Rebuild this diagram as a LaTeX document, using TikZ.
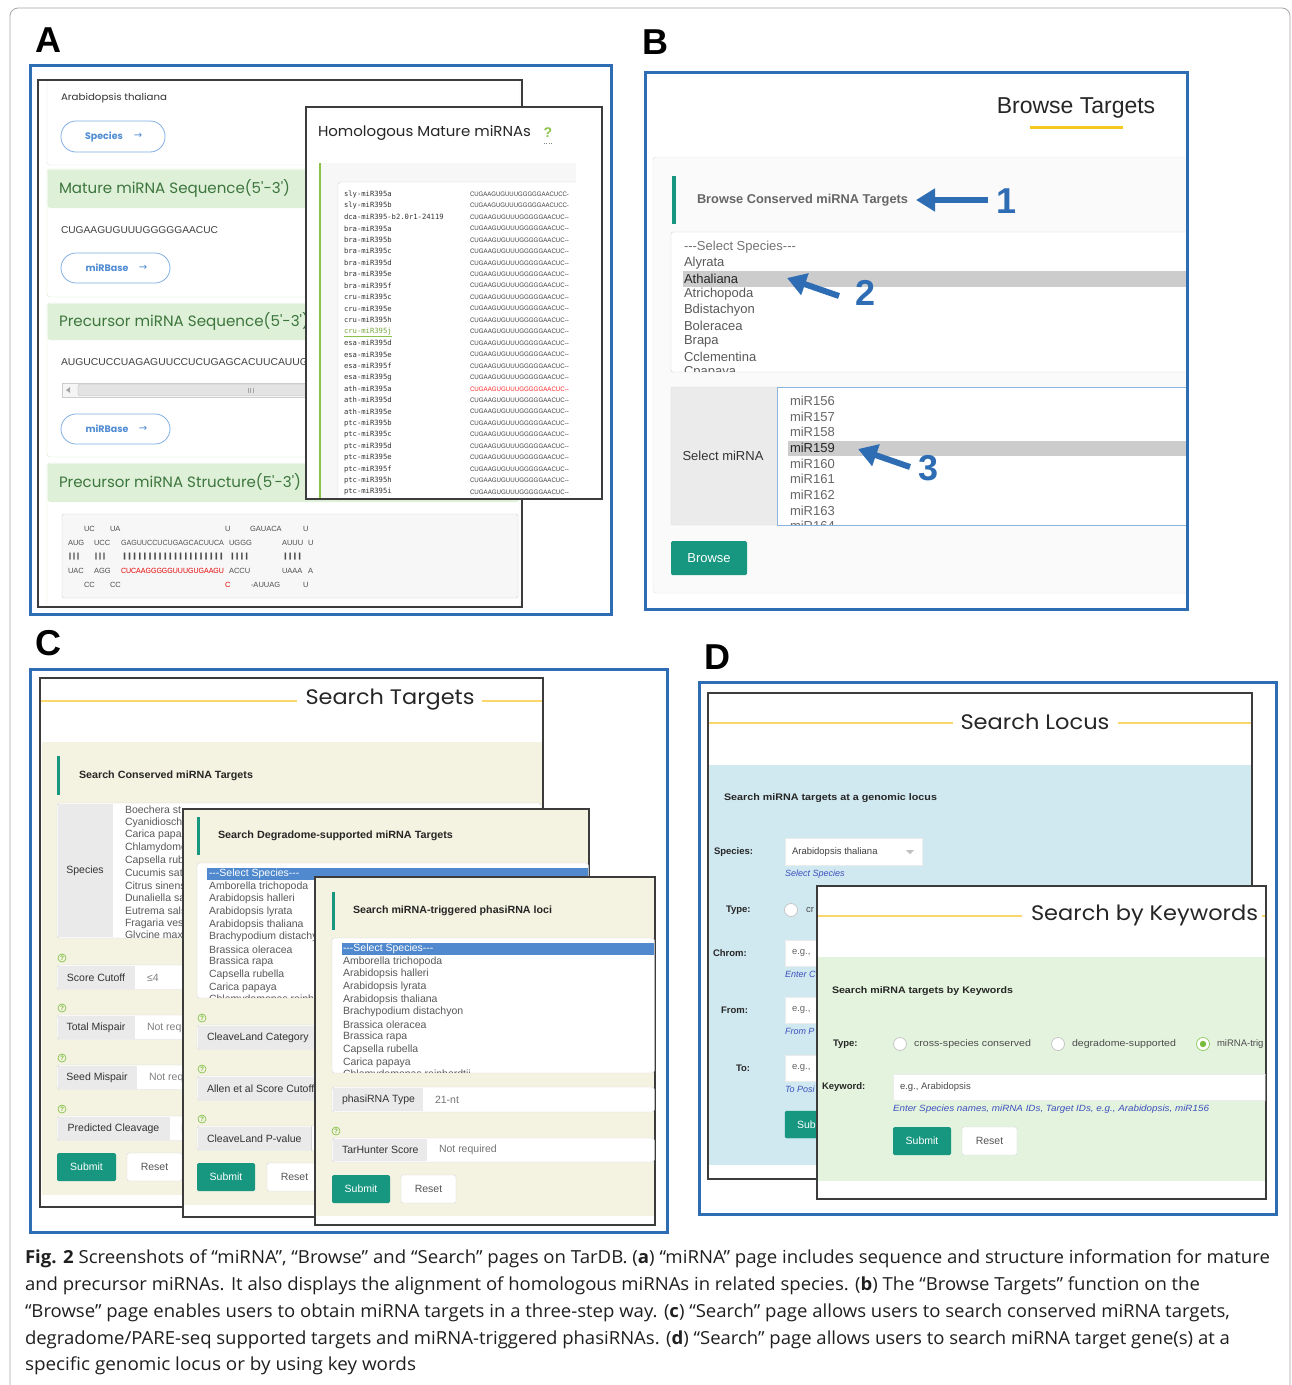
\documentclass[tikz,border=0pt]{standalone}
\usepackage{fontspec}
\usepackage{graphicx}
\usetikzlibrary{arrows.meta}
\newfontfamily\ar{Liberation Sans}
\newfontfamily\pop{Poppins}
\newfontfamily\mono{DejaVu Sans Mono}
\newfontfamily\dv{DejaVu Sans}
\newfontfamily\capf{Open Sans}
\definecolor{fblue}{RGB}{46,109,180}
\definecolor{teal1}{RGB}{23,150,128}
\definecolor{hdrg}{RGB}{223,240,216}
\definecolor{hdrt}{RGB}{60,118,61}
\definecolor{bdrg}{RGB}{214,233,198}
\definecolor{pillb}{RGB}{130,175,228}
\definecolor{pillt}{RGB}{80,140,210}
\definecolor{beige}{RGB}{244,242,224}
\definecolor{lblue}{RGB}{208,232,240}
\definecolor{lgreen}{RGB}{228,243,222}
\definecolor{ylw}{RGB}{250,214,110}
\definecolor{gold}{RGB}{245,200,30}
\definecolor{selblue}{RGB}{80,137,205}
\definecolor{pgb}{RGB}{60,60,60}
\definecolor{lblg}{RGB}{234,234,234}
\definecolor{lblg2}{RGB}{235,235,235}
\definecolor{bdg}{RGB}{214,214,214}
\definecolor{txg}{RGB}{85,85,85}
\definecolor{linkb}{RGB}{60,80,190}
\definecolor{hgreen}{RGB}{120,190,60}
\definecolor{agreen}{RGB}{139,195,74}
\definecolor{lbord}{RGB}{140,180,220}
\newcommand\fsz[1]{\fontsize{#1}{#1}\selectfont}
\newsavebox\fitbox
\newcommand\fitto[2]{\sbox\fitbox{#2}\edef\fitw{\the\wd\fitbox}\pgfmathsetmacro\fitr{#1/\fitw}\scalebox{\fitr}[1]{\usebox\fitbox}}
\tikzset{
 tx/.style={anchor=west, inner sep=0pt, outer sep=0pt},
 ct/.style={anchor=center, inner sep=0pt},
 bframe/.style={draw=fblue, line width=3pt},
 pagebox/.style={draw=pgb, line width=1.2pt, fill=white},
 plab/.style={font=\fsz{36}\bfseries, inner sep=0pt},
 btn/.style={fill=teal1, text=white, rounded corners=1.5pt, inner sep=0pt, font=\fsz{10.5}},
 rbtn/.style={fill=white, draw=bdg, text=txg, rounded corners=1.5pt, inner sep=0pt, font=\fsz{10.5}},
 helpic/.style={circle, draw=hgreen, text=hgreen, line width=0.6pt, inner sep=0pt, minimum size=8pt, font=\fsz{6.5}\bfseries},
 radio/.style={circle, draw=gray!45, line width=0.8pt, fill=white, minimum size=13pt, inner sep=0pt},
 barrow/.style={draw=fblue, line width=6pt, -{Triangle[length=19pt,width=22pt]}},
 numlab/.style={font=\fsz{36}\bfseries, text=fblue, inner sep=0pt},
 pill/.style={draw=pillb, line width=0.8pt, rounded corners=15pt},
 pilltx/.style={font=\pop\bfseries\fsz{9.5}, text=pillt, inner sep=0pt},
 ahdr/.style={tx, font=\pop\fsz{15}, text=hdrt},
 rowbox/.style={draw=bdg, fill=white, rounded corners=2.5pt},
}
\begin{document}
\begin{tikzpicture}[x=1pt,y=-1pt]
\ar
\useasboundingbox (0,0) rectangle (1292,1385);
\fill[white] (0,0) rectangle (1292,1385);
\draw[gray!70, line width=0.8pt, rounded corners=8pt] (10,1400) -- (10,8) -- (1290,8) -- (1290,1400);

%%%%%%%%%%%%%%%% PANEL A
\node[plab] (labA) at (48,40) {A};
\draw[pagebox] (38,80) rectangle (522,607);
\begin{scope}
\clip (38,80) rectangle (522,607);
\draw[gray!20, fill=white, rounded corners=3pt] (47,70) rectangle (520,165);
\node[tx, font=\pop\fsz{9.5}, text=black!80] (aath) at (61,98) {\fitto{106}{Arabidopsis thaliana}};
\draw[pill] (61,121) rectangle (165,152);
\node[pilltx] (aspec) at (104,136.5) {Species};
\node[font=\dv\fsz{10}, text=pillt, inner sep=0pt] (aspa) at (138,136) {→};
% mature
\draw[bdrg, fill=white, rounded corners=3pt] (47,169) rectangle (520,297);
\fill[hdrg, rounded corners=3pt] (47.5,169.5) rectangle (519.5,208);
\node[ahdr] (amat) at (59,188) {\fitto{231}{Mature miRNA Sequence(5'-3')}};
\node[tx, font=\fsz{10}, text=black!75] (aseq) at (61,230) {\fitto{157}{CUGAAGUGUUUGGGGGAACUC}};
\draw[pill] (61,253) rectangle (170,283);
\node[pilltx] (amb1) at (107,268) {miRBase};
\node[font=\dv\fsz{10}, text=pillt, inner sep=0pt] (amb1a) at (143,268) {→};
% precursor seq
\draw[bdrg, fill=white, rounded corners=3pt] (47,303) rectangle (520,457);
\fill[hdrg, rounded corners=3pt] (47.5,303.5) rectangle (519.5,340);
\node[ahdr] (apre) at (59,321) {\fitto{250}{Precursor miRNA Sequence(5'-3')}};
\node[tx, font=\fsz{10}, text=black!75] (apseq) at (61,362) {\fitto{247}{AUGUCUCCUAGAGUUCCUCUGAGCACUUCAUUG}};
\draw[gray!40, fill=gray!8] (62,383) rectangle (330,397);
\draw[gray!55, fill=gray!22, rounded corners=2pt] (78,384.5) rectangle (330,395.5);
\fill[gray!70] (66,390) -- (70,387) -- (70,393) -- cycle;
\foreach \gx in {248,250.5,253} {\draw[gray!70, line width=0.6pt] (\gx,387.5) -- (\gx,392.5);}
\draw[pill] (61,414) rectangle (170,444);
\node[pilltx] (amb2) at (107,429) {miRBase};
\node[font=\dv\fsz{10}, text=pillt, inner sep=0pt] (amb2a) at (143,429) {→};
% structure
\draw[bdrg, fill=white, rounded corners=3pt] (47,463) rectangle (520,620);
\fill[hdrg, rounded corners=3pt] (47.5,463.5) rectangle (519.5,502);
\node[ahdr] (astr) at (59,482) {\fitto{242}{Precursor miRNA Structure(5'-3')}};
\draw[gray!35, fill=gray!6, rounded corners=2pt] (62,514) rectangle (518,598);
\begin{scope}[font=\fsz{7.5}, text=black!70]
\node[tx] (s1a) at (84,529) {UC};
\node[tx] (s1b) at (110,529) {UA};
\node[tx] (s1c) at (225,529) {U};
\node[tx] (s1d) at (250,529) {GAUACA};
\node[tx] (s1e) at (303,529) {U};
\node[tx] (s2a) at (68,543) {AUG};
\node[tx] (s2b) at (94,543) {UCC};
\node[tx] (s2c) at (121,543) {\fitto{103}{GAGUUCCUCUGAGCACUUCA}};
\node[tx] (s2d) at (229,543) {UGGG};
\node[tx] (s2e) at (282,543) {AUUU};
\node[tx] (s2f) at (308,543) {U};
\node[tx] (s3a) at (68,557) {\fitto{12}{|||}};
\node[tx] (s3b) at (94,557) {\fitto{12}{|||}};
\node[tx] (s3c) at (122,557) {\fitto{102}{||||||||||||||||||||}};
\node[tx] (s3d) at (230,557) {\fitto{19}{||||}};
\node[tx] (s3e) at (283,557) {\fitto{19}{||||}};
\node[tx] (s4a) at (68,571) {UAC};
\node[tx] (s4b) at (94,571) {AGG};
\node[tx, text=red!90!black] (s4c) at (121,571) {\fitto{103}{CUCAAGGGGGUUUGUGAAGU}};
\node[tx] (s4d) at (229,571) {ACCU};
\node[tx] (s4e) at (282,571) {UAAA};
\node[tx] (s4f) at (308,571) {A};
\node[tx] (s5a) at (84,585) {CC};
\node[tx] (s5b) at (110,585) {CC};
\node[tx, text=red!90!black] (s5c) at (225,585) {C};
\node[tx] (s5d) at (251,585) {-AUUAG};
\node[tx] (s5e) at (303,585) {U};
\end{scope}
\end{scope}
\draw[pgb, line width=1.2pt] (38,80) rectangle (522,607);
% popup
\draw[pagebox] (306,107) rectangle (602,499);
\node[tx, font=\pop\fsz{14.5}, text=black!85] (ahom) at (318,133) {\fitto{213}{Homologous Mature miRNAs}};
\node[font=\bfseries\fsz{14}, text=agreen, inner sep=0pt] (aq) at (548,133) {?};
\draw[gray, dotted] (544,143) -- (552,143);
\fill[gray!6] (320,163) rectangle (576,498);
\draw[agreen, line width=2.2pt] (320,163) -- (320,498);
\fill[white] (338,182) rectangle (576,498);
\draw[gray!35] (576,182) -- (340,182) -- (338,184) -- (338,498);
\foreach \n [count=\i from 0] in {sly-miR395a,sly-miR395b,dca-miR395-b2.0r1-24119,bra-miR395a,bra-miR395b,bra-miR395c,bra-miR395d,bra-miR395e,bra-miR395f,cru-miR395c,cru-miR395e,cru-miR395h,cru-miR395j,esa-miR395d,esa-miR395e,esa-miR395f,esa-miR395g,ath-miR395a,ath-miR395d,ath-miR395e,ptc-miR395b,ptc-miR395c,ptc-miR395d,ptc-miR395e,ptc-miR395f,ptc-miR395h,ptc-miR395i}{
  \ifnum\i<2 \def\sq{CUGAAGUGUUUGGGGGAACUCC-}\else\def\sq{CUGAAGUGUUUGGGGGAACUC--}\fi
  \ifnum\i=17 \def\sc{red!85}\else\def\sc{black!75}\fi
  \ifnum\i=12 \def\nc{agreen!85!black}\else\def\nc{black!80}\fi
  \node[tx, font=\mono\fsz{7.2}, text=\nc] (hn\i) at (344,194+11.46*\i) {\n};
  \node[tx, font=\fsz{6.5}, text=\sc] (hs\i) at (470,194+11.46*\i) {\fitto{99}{\sq}};
}
\draw[agreen, line width=0.5pt] ([yshift=-1pt]hn12.south west) -- ([yshift=-1pt]hn12.south east);
\draw[bframe] (30,65) rectangle (611,614);

%%%%%%%%%%%%%%%% PANEL B
\node[plab] (labB) at (655,42) {B};
\begin{scope}
\clip (645,72) rectangle (1187,609);
\node[font=\fsz{23}, text=black!85, inner sep=0pt] (btit) at (1076,108) {Browse Targets};
\draw[gold, line width=3pt] (1030,127) -- (1123,127);
\draw[gray!20, fill=gray!4, rounded corners=3pt] (653,157) rectangle (1210,593);
\fill[teal1] (672,176) rectangle (676,224);
\node[tx, font=\bfseries\fsz{12.8}, text=black!60] (bcons) at (697,200) {Browse Conserved miRNA Targets};
\draw[gray!40, fill=white, rounded corners=2pt] (671,232) rectangle (1210,372);
\fill[gray!40] (683,271) rectangle (1210,287);
\begin{scope}
\clip (671,233) rectangle (1210,371);
\foreach \t [count=\i from 0] in {---Select Species---,Alyrata,Athaliana,Atrichopoda,Bdistachyon,Boleracea,Brapa,Cclementina,Cpapaya}{
  \ifnum\i=0 \def\tc{black!55}\else\ifnum\i=2 \def\tc{black!85}\else\def\tc{black!65}\fi\fi
  \node[tx, font=\fsz{13}, text=\tc] (bsp\i) at (684,247+15.7*\i) {\t};
}
\end{scope}
\draw[gray!30, fill=lblg2, rounded corners=2pt] (671,387) rectangle (785,525);
\node[font=\fsz{13}, text=black!80, inner sep=0pt] (bselm) at (723,456) {Select miRNA};
\draw[lbord, fill=white] (777,387) rectangle (1210,525);
\fill[gray!40] (788,441) rectangle (1210,456);
\begin{scope}
\clip (778,388) rectangle (1210,524);
\foreach \t [count=\i from 0] in {miR156,miR157,miR158,miR159,miR160,miR161,miR162,miR163,miR164}{
  \ifnum\i=3 \def\tc{black!85}\else\def\tc{black!60}\fi
  \node[tx, font=\fsz{13}, text=\tc] (bmi\i) at (790,401+15.65*\i) {\t};
}
\end{scope}
\node[btn, font=\fsz{13}, minimum width=76pt, minimum height=34pt] (bbrowse) at (709,558) {Browse};
\end{scope}
\node[numlab] (b1) at (1007,201) {1};
\node[numlab] (b2) at (866,293) {2};
\node[numlab] (b3) at (929,468) {3};
\coordinate (b1tail) at (988,200);
\coordinate (b1tip) at (916,200);
\coordinate (b2tail) at (839,296);
\coordinate (b2tip) at (787,278);
\coordinate (b3tail) at (910,467);
\coordinate (b3tip) at (858,449);
\draw[barrow] (b1tail) -- (b1tip);
\draw[barrow] (b2tail) -- (b2tip);
\draw[barrow] (b3tail) -- (b3tip);
\draw[bframe] (645,72) rectangle (1187,609);

%%%%%%%%%%%%%%%% PANEL C
\node[plab] (labC) at (48,643) {C};
% page 1
\draw[pagebox] (40,678) rectangle (543,1207);
\node[font=\pop\fsz{21}, text=black!85, inner sep=0pt] (ctit) at (390,700) {\fitto{169}{Search Targets}};
\draw[ylw, line width=1.2pt] (41,701) -- (297,701);
\draw[ylw, line width=1.2pt] (482,701) -- (542,701);
\fill[beige] (41.5,742) rectangle (541.5,1195);
\fill[teal1] (57,756) rectangle (60,795);
\node[tx, font=\bfseries\fsz{10.5}, text=black!85] (cc1t) at (79,776) {\fitto{174}{Search Conserved miRNA Targets}};
\draw[rowbox] (57,803) rectangle (541,938);
\fill[lblg] (57.6,803.6) rectangle (113,937.4);
\node[font=\fsz{10.5}, text=black!80, inner sep=0pt] (cspec) at (85,871) {Species};
\begin{scope}
\clip (113,804) rectangle (183,937);
\foreach \t [count=\i from 0] in {Boechera st,Cyanidiosch,Carica papa,Chlamydomo,Capsella rub,Cucumis sat,Citrus sinens,Dunaliella sa,Eutrema sals,Fragaria ves,Glycine max}{
  \node[tx, font=\fsz{10.5}, text=black!65] (csp\i) at (125,810+12.6*\i) {\t};
}
\end{scope}
\foreach \lab/\y/\lw/\val/\vx [count=\i] in {Score Cutoff/965/135/≤4/147, Total Mispair/1015/135/Not requ/147, Seed Mispair/1065/137/Not req/149, Predicted Cleavage/1116/170/N/181}{
  \node[helpic] (chp\i) at (62,\y-7) {?};
  \draw[rowbox] (57,\y) rectangle (541,\y+24.5);
  \fill[lblg] (57.6,\y+0.6) rectangle (\lw,\y+23.9);
  \node[font=\fsz{10.5}, text=black!80, inner sep=0pt] (clb\i) at ({(57+\lw)/2},\y+12.5) {\lab};
  \node[tx, font=\fsz{10.5}, text=black!50] (cvl\i) at (\vx,\y+12.5) {\val};
}
\node[btn, minimum width=59pt, minimum height=28pt] (csub1) at (86.5,1167) {Submit};
\node[rbtn, minimum width=55pt, minimum height=28pt] (crst1) at (154.5,1167) {Reset};
% page 2
\draw[pagebox] (183,809) rectangle (589,1217);
\fill[beige] (183.6,809.6) rectangle (588.4,1205);
\fill[teal1] (197,817) rectangle (200,855);
\node[tx, font=\bfseries\fsz{10.5}, text=black!85] (cc2t) at (218,836) {\fitto{235}{Search Degradome-supported miRNA Targets}};
\draw[rowbox] (197,863) rectangle (588.4,998);
\fill[selblue] (207,868) rectangle (588.4,880);
\begin{scope}
\clip (198,864) rectangle (315,997);
\foreach \t [count=\i from 0] in {---Select Species---,Amborella trichopoda,Arabidopsis halleri,Arabidopsis lyrata,Arabidopsis thaliana,Brachypodium distachy,Brassica oleracea,Brassica rapa,Capsella rubella,Carica papaya,Chlamydomonas reinh}{
  \ifnum\i=0 \def\tc{white}\else\def\tc{black!65}\fi
  \node[tx, font=\fsz{10.5}, text=\tc] (cdsp\i) at (209,874+12.6*\i) {\t};
}
\end{scope}
\foreach \lab/\y [count=\i] in {CleaveLand Category/1025, Allen et al Score Cutoff/1076, CleaveLand P-value/1126}{
  \node[helpic] (cdhp\i) at (202,\y-7) {?};
  \draw[rowbox] (197,\y) rectangle (588,\y+24.5);
  \fill[lblg] (197.6,\y+0.6) rectangle (330,\y+23.9);
  \node[tx, font=\fsz{10.5}, text=black!80] (cdlb\i) at (207,\y+12.5) {\lab};
}
\draw[bdg] (311,1126) -- (311,1150.5);
\fill[white] (311.6,1126.6) rectangle (330,1149.9);
\node[btn, minimum width=58pt, minimum height=28pt] (csub2) at (226,1177) {Submit};
\node[rbtn, minimum width=55pt, minimum height=28pt] (crst2) at (294.5,1177) {Reset};
% page 3
\draw[pagebox] (315,877) rectangle (655,1225);
\fill[beige] (315.6,877.6) rectangle (654.4,1216);
\fill[teal1] (332,892) rectangle (335,930);
\node[tx, font=\bfseries\fsz{10.5}, text=black!85] (cc3t) at (353,911) {\fitto{199}{Search miRNA-triggered phasiRNA loci}};
\draw[rowbox] (332,938) rectangle (654.4,1073);
\fill[selblue] (342,943) rectangle (654.4,955);
\begin{scope}
\clip (333,939) rectangle (654,1072);
\foreach \t [count=\i from 0] in {---Select Species---,Amborella trichopoda,Arabidopsis halleri,Arabidopsis lyrata,Arabidopsis thaliana,Brachypodium distachyon,Brassica oleracea,Brassica rapa,Capsella rubella,Carica papaya,Chlamydomonas reinhardtii}{
  \ifnum\i=0 \def\tc{white}\else\def\tc{black!65}\fi
  \node[tx, font=\fsz{10.5}, text=\tc] (cpsp\i) at (343,949+12.6*\i) {\t};
}
\end{scope}
\draw[rowbox] (332,1087) rectangle (654.4,1112);
\fill[lblg] (332.6,1087.6) rectangle (423,1111.4);
\node[tx, font=\fsz{10.5}, text=black!80] (cplb1) at (342,1099.5) {phasiRNA Type};
\node[tx, font=\fsz{10.5}, text=black!55] (cpvl1) at (435,1099.5) {21-nt};
\node[helpic] (cphp) at (336,1131) {?};
\draw[rowbox] (332,1138) rectangle (654.4,1162);
\fill[lblg] (332.6,1138.6) rectangle (427,1161.4);
\node[tx, font=\fsz{10.5}, text=black!80] (cplb2) at (342,1150) {TarHunter Score};
\node[tx, font=\fsz{10.5}, text=black!55] (cpvl2) at (439,1150) {Not required};
\node[btn, minimum width=58pt, minimum height=28pt] (csub3) at (361,1189) {Submit};
\node[rbtn, minimum width=55pt, minimum height=28pt] (crst3) at (428.5,1189) {Reset};
\draw[bframe] (30,669) rectangle (667,1232);

%%%%%%%%%%%%%%%% PANEL D
\node[plab] (labD) at (717,657) {D};
\draw[pagebox] (708,693) rectangle (1252,1179);
\node[font=\pop\fsz{21}, text=black!85, inner sep=0pt] (dtit1) at (1035,722) {\fitto{149}{Search Locus}};
\draw[ylw, line width=1.2pt] (709,723) -- (953,723);
\draw[ylw, line width=1.2pt] (1118,723) -- (1251,723);
\fill[lblue] (709,765) rectangle (1251,1165);
\node[tx, font=\bfseries\fsz{9.5}, text=black!85] (dl1) at (724,798) {\fitto{213}{Search miRNA targets at a genomic locus}};
\node[tx, font=\bfseries\fsz{9.5}, text=black!85] (dspl) at (714,852) {Species:};
\draw[gray!15, fill=white] (785,838) rectangle (922,865);
\node[tx, font=\fsz{9.5}, text=black!75] (dspv) at (792,852) {Arabidopsis thaliana};
\fill[gray!50] (906,850) -- (914,850) -- (910,854) -- cycle;
\node[tx, font=\itshape\fsz{9}, text=linkb] (dsph) at (785,874) {Select Species};
\node[tx, font=\bfseries\fsz{9.5}, text=black!85] (dtyl) at (726,910) {Type:};
\node[radio] (dr0) at (791,910) {};
\node[tx, font=\fsz{9.5}, text=black!70] (dr0t) at (806,910) {cr};
\foreach \lab/\lx/\y/\hint [count=\i] in {Chrom:/713/953/Enter C, From:/721/1010/From P, To:/736/1068/To Posi}{
  \node[tx, font=\bfseries\fsz{9.5}, text=black!85] (dfl\i) at (\lx,\y) {\lab};
  \draw[gray!15, fill=white] (785,\y-13) rectangle (860,\y+13);
  \node[tx, font=\fsz{9.5}, text=black!60] (dfv\i) at (792,\y) {e.g.,};
  \node[tx, font=\itshape\fsz{9}, text=linkb] (dfh\i) at (785,\y+21) {\hint};
}
\draw[teal1, fill=teal1, rounded corners=1.5pt] (785,1111) rectangle (843,1138);
\node[tx, font=\fsz{10.5}, text=white] (dsub1) at (797,1124.5) {Sub};
% page 2
\draw[pagebox] (817,886) rectangle (1266,1199);
\node[font=\pop\fsz{21}, text=black!85, inner sep=0pt] (dtit2) at (1144.5,915) {\fitto{227}{Search by Keywords}};
\draw[ylw, line width=1.2pt] (818,916) -- (1022,916);
\draw[ylw, line width=1.2pt] (1262,916) -- (1265,916);
\fill[lgreen] (817.6,957) rectangle (1265.4,1181);
\node[tx, font=\bfseries\fsz{9.5}, text=black!85] (dl2) at (832,991) {\fitto{181}{Search miRNA targets by Keywords}};
\node[tx, font=\bfseries\fsz{9.5}, text=black!85] (dtyl2) at (833,1044) {Type:};
\begin{scope}
\clip (818,887) rectangle (1265.4,1198);
\node[radio] (dr1) at (900,1044) {};
\node[tx, font=\fsz{9.5}, text=black!70] (dr1t) at (914,1044) {\fitto{117}{cross-species conserved}};
\node[radio] (dr2) at (1058,1044) {};
\node[tx, font=\fsz{9.5}, text=black!70] (dr2t) at (1072,1044) {\fitto{104}{degradome-supported}};
\node[radio, draw=hgreen!80] (dr3) at (1203,1044) {};
\fill[hgreen] (dr3) circle (3.2pt);
\node[tx, font=\fsz{9.5}, text=black!70] (dr3t) at (1217,1044) {miRNA-trig};
\draw[gray!15, fill=white] (893,1074) rectangle (1275,1100);
\end{scope}
\node[tx, font=\bfseries\fsz{9.5}, text=black!85] (dkl) at (822,1087) {Keyword:};
\node[tx, font=\fsz{9.5}, text=black!70] (dkv) at (900,1087) {e.g., Arabidopsis};
\node[tx, font=\itshape\fsz{9}, text=linkb] (dkh) at (893,1109) {\fitto{316}{Enter Species names, miRNA IDs, Target IDs, e.g., Arabidopsis, miR156}};
\node[btn, minimum width=58pt, minimum height=28pt] (dsub2) at (922,1141) {Submit};
\node[rbtn, minimum width=55pt, minimum height=28pt] (drst2) at (989.5,1141) {Reset};
\draw[bframe] (699,682) rectangle (1276,1214);

%%%%%%%%%%%%%%%% CAPTION
\begin{scope}[font=\capf\fsz{18}, text=black!88]
\node[tx] (cap1) at (25,1259) {\fitto{1245}{\textbf{Fig. 2} Screenshots of “miRNA”, “Browse” and “Search” pages on TarDB. (\textbf{a}) “miRNA” page includes sequence and structure information for mature}};
\node[tx] (cap2) at (25,1286) {\fitto{1175}{and precursor miRNAs. It also displays the alignment of homologous miRNAs in related species. (\textbf{b}) The “Browse Targets” function on the}};
\node[tx] (cap3) at (25,1313) {\fitto{1205}{“Browse” page enables users to obtain miRNA targets in a three-step way. (\textbf{c}) “Search” page allows users to search conserved miRNA targets,}};
\node[tx] (cap4) at (25,1340) {\fitto{1205}{degradome/PARE-seq supported targets and miRNA-triggered phasiRNAs. (\textbf{d}) “Search” page allows users to search miRNA target gene(s) at a}};
\node[tx] (cap5) at (25,1366) {\fitto{391}{specific genomic locus or by using key words}};
\end{scope}
\end{tikzpicture}
\end{document}
